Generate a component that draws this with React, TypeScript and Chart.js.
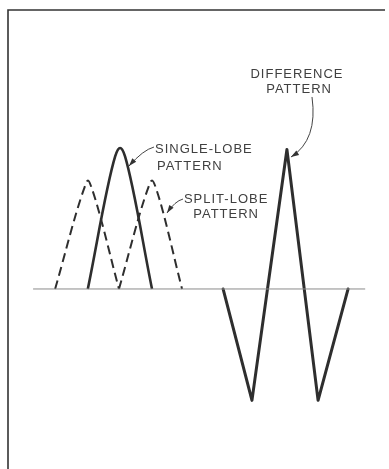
import React, { useEffect, useRef } from "react";
import { Chart, registerables } from "chart.js";

Chart.register(...registerables);

// Horizontal reference line (zero level)
const axisX = [6.6, 94.0];
const axisY = [0, 0];

// Single-lobe pattern (solid)
const singleX = [21.0, 28.2, 29.5, 30.8, 37.9];
const singleY = [0, 0.94, 1.0, 0.94, 0];

// Split-lobe pattern (dashed), left and right lobes
const splitLeftX = [12.4, 20.0, 21.05, 22.1, 29.2];
const splitLeftY = [0, 0.71, 0.77, 0.71, 0];
const splitRightX = [29.2, 36.8, 37.9, 39.0, 45.8];
const splitRightY = [0, 0.71, 0.77, 0.71, 0];

// Difference pattern (solid zigzag)
const diffX = [56.6, 64.2, 73.4, 81.6, 89.5];
const diffY = [0, -0.79, 0.99, -0.79, 0];

// Label texts
const labelTexts = ["DIFFERENCE", "PATTERN", "SINGLE-LOBE", "PATTERN", "SPLIT-LOBE", "PATTERN"];
const labelX = [76.05, 76.6, 38.7, 39.2, 57.4, 57.4];
const labelY = [1.5, 1.39, 0.965, 0.844, 0.61, 0.5];
const labelAlign = ["center", "center", "left", "left", "center", "center"];

// Leader lines: start, control, end (data units)
const leaderStartX = [38.42, 46.05, 80.0];
const leaderStartY = [1.007, 0.638, 1.362];
const leaderCtrlX = [35.53, 43.95, 81.58];
const leaderCtrlY = [0.986, 0.624, 1.057];
const leaderEndX = [31.84, 41.84, 74.47];
const leaderEndY = [0.872, 0.539, 0.936];

const toPts = (xs: number[], ys: number[]) => xs.map((x, i) => ({ x, y: ys[i] }));

const ink = "#2e2e2e";

const decorPlugin = {
  id: "decor",
  beforeDraw(chart: any) {
    const { ctx, chartArea } = chart;
    ctx.save();
    ctx.fillStyle = "#ffffff";
    ctx.fillRect(0, 0, chart.width, chart.height);
    ctx.strokeStyle = "#333";
    ctx.lineWidth = 1.6;
    ctx.beginPath();
    ctx.moveTo(chartArea.left, chartArea.bottom);
    ctx.lineTo(chartArea.left, chartArea.top);
    ctx.lineTo(chartArea.right - 3, chartArea.top);
    ctx.stroke();
    ctx.restore();
  },
  afterDatasetsDraw(chart: any) {
    const { ctx } = chart;
    const xs = chart.scales.x;
    const ys = chart.scales.y;
    ctx.save();
    ctx.fillStyle = "#404040";
    ctx.font = "13px 'Liberation Sans', Arial, sans-serif";
    (ctx as any).letterSpacing = "1px";
    ctx.textBaseline = "alphabetic";
    labelTexts.forEach((t, i) => {
      ctx.textAlign = labelAlign[i] as CanvasTextAlign;
      ctx.fillText(t, xs.getPixelForValue(labelX[i]), ys.getPixelForValue(labelY[i]));
    });
    ctx.strokeStyle = "#444";
    ctx.fillStyle = "#333";
    ctx.lineWidth = 1;
    for (let i = 0; i < leaderStartX.length; i++) {
      const sx = xs.getPixelForValue(leaderStartX[i]);
      const sy = ys.getPixelForValue(leaderStartY[i]);
      const cx = xs.getPixelForValue(leaderCtrlX[i]);
      const cy = ys.getPixelForValue(leaderCtrlY[i]);
      const ex = xs.getPixelForValue(leaderEndX[i]);
      const ey = ys.getPixelForValue(leaderEndY[i]);
      ctx.beginPath();
      ctx.moveTo(sx, sy);
      ctx.quadraticCurveTo(cx, cy, ex, ey);
      ctx.stroke();
      const ang = Math.atan2(ey - cy, ex - cx);
      const L = 8;
      const W = 2.6;
      ctx.beginPath();
      ctx.moveTo(ex, ey);
      ctx.lineTo(ex - L * Math.cos(ang) + W * Math.sin(ang), ey - L * Math.sin(ang) - W * Math.cos(ang));
      ctx.lineTo(ex - L * Math.cos(ang) - W * Math.sin(ang), ey - L * Math.sin(ang) + W * Math.cos(ang));
      ctx.closePath();
      ctx.fill();
    }
    ctx.restore();
  },
};

const dashedLobe = (xs: number[], ys: number[]) => ({
  data: toPts(xs, ys),
  borderColor: ink,
  borderWidth: 2,
  borderDash: [9, 5],
  pointRadius: 0,
  borderJoinStyle: "round" as const,
  cubicInterpolationMode: "monotone" as const,
});

export default function App() {
  const ref = useRef<HTMLCanvasElement>(null);
  useEffect(() => {
    if (!ref.current) return;
    const chart = new Chart(ref.current, {
      type: "line",
      data: {
        datasets: [
          {
            data: toPts(axisX, axisY),
            borderColor: "#8a8a8a",
            borderWidth: 1,
            pointRadius: 0,
          },
          dashedLobe(splitLeftX, splitLeftY),
          dashedLobe(splitRightX, splitRightY),
          {
            data: toPts(singleX, singleY),
            borderColor: ink,
            borderWidth: 2.6,
            pointRadius: 0,
            borderJoinStyle: "round",
            cubicInterpolationMode: "monotone",
          },
          {
            data: toPts(diffX, diffY),
            borderColor: ink,
            borderWidth: 3,
            pointRadius: 0,
            borderJoinStyle: "round",
            borderCapStyle: "round",
          },
        ],
      },
      options: {
        animation: false,
        responsive: false,
        layout: { padding: { left: 8, top: 10, right: 1, bottom: 0 } },
        plugins: { legend: { display: false }, tooltip: { enabled: false } },
        scales: {
          x: { type: "linear", min: 0, max: 100, display: false },
          y: { type: "linear", min: -1.277, max: 1.979, display: false },
        },
      },
      plugins: [decorPlugin],
    });
    return () => chart.destroy();
  }, []);
  return (
    <div style={{ position: "fixed", left: 0, top: 0, width: 389, height: 469 }}>
      <canvas ref={ref} width={389} height={469} style={{ display: "block" }} />
    </div>
  );
}
